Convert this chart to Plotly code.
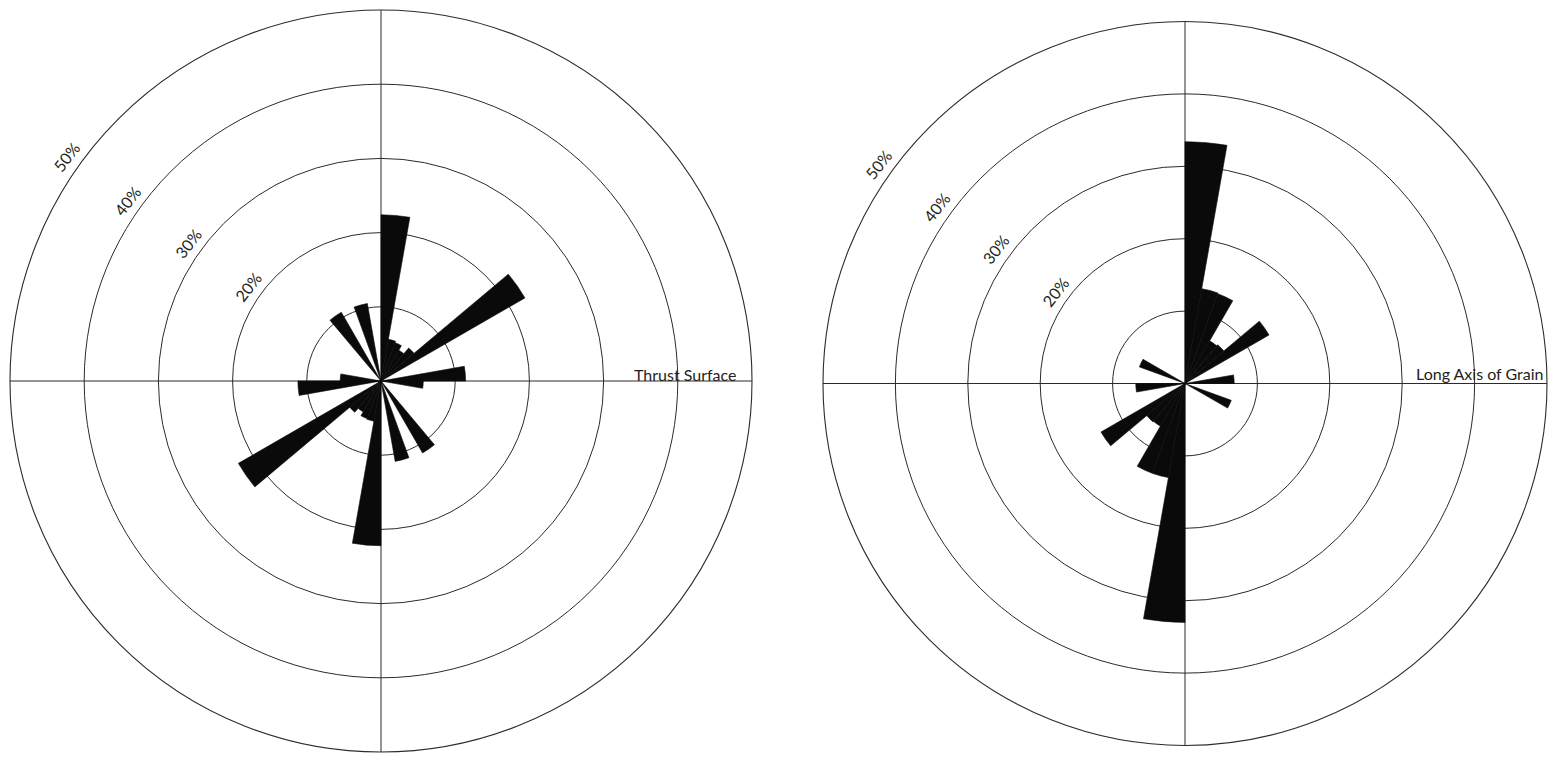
import math
import plotly.graph_objects as go

# Rose diagrams, 10 degree bins (compass degrees, clockwise from north)
bin_start = list(range(0, 360, 10))

# % of grains per bin, left diagram (thrust surface)
thrust_pct = [22.4, 5.7, 5.5, 4.8, 5.8, 22.4, 0, 0, 11.4, 5.7, 0, 0, 0, 0, 11.2, 0, 11.0, 0,
              22.2, 5.5, 5.4, 4.8, 5.5, 22.2, 0, 0, 11.2, 5.5, 0, 0, 0, 0, 10.7, 0, 10.6, 0]

# % of grains per bin, right diagram (long axis of grain)
grain_pct = [33.4, 13.3, 13.2, 6.8, 7.0, 13.4, 0, 0, 6.8, 0, 0, 6.8, 0, 0, 0, 0, 0, 0,
             33.0, 13.2, 13.2, 6.8, 6.9, 13.4, 0, 0, 6.8, 0, 0, 6.7, 0, 0, 0, 0, 0, 0]

ring_vals = [10, 20, 30, 40, 50]
ring_labels = ["", "20%", "30%", "40%", "50%"]
r_max = 50

W, H = 1552, 757
INK = "#231f20"
BAR = "#0a0a0a"

# polar areas in pixels (left, top, size)
left_box = (10, 10, 742)
right_box = (823, 21.5, 724)


def dom(box):
    x0, y0, s = box
    return dict(x=[x0 / W, (x0 + s) / W], y=[1 - (y0 + s) / H, 1 - y0 / H])


def to_paper(box, r, theta):
    # polar (r, compass theta) -> paper coords
    x0, y0, s = box
    rad = s / 2 * r / r_max
    t = math.radians(theta)
    px = x0 + s / 2 + rad * math.sin(t)
    py = y0 + s / 2 - rad * math.cos(t)
    return px / W, 1 - py / H


fig = go.Figure()
centers = [b + 5 for b in bin_start]
fig.add_trace(go.Barpolar(r=thrust_pct, theta=centers, width=[10] * 36,
                          marker=dict(color=BAR, line=dict(color=BAR, width=0.6)),
                          subplot="polar", showlegend=False))
fig.add_trace(go.Barpolar(r=grain_pct, theta=centers, width=[10] * 36,
                          marker=dict(color=BAR, line=dict(color=BAR, width=0.6)),
                          subplot="polar2", showlegend=False))

polar_style = dict(
    bgcolor="white",
    radialaxis=dict(range=[0, r_max], tickvals=ring_vals, showticklabels=False, ticks="",
                    showline=False, gridcolor="#2b2b2b", gridwidth=1.1, layer="below traces"),
    angularaxis=dict(rotation=90, direction="clockwise", dtick=90, showticklabels=False,
                     ticks="", showline=True, linecolor="#2b2b2b", linewidth=1.1,
                     gridcolor="#2b2b2b", gridwidth=1.1, layer="below traces"),
)
fig.update_layout(polar=dict(domain=dom(left_box), **polar_style),
                  polar2=dict(domain=dom(right_box), **polar_style))

annotations = []
for box in (left_box, right_box):
    for v, lab in zip(ring_vals, ring_labels):
        if not lab:
            continue
        x, y = to_paper(box, v + 2.0, 305.5)
        annotations.append(dict(x=x, y=y, xref="paper", yref="paper", text=lab, showarrow=False,
                                xanchor="center", yanchor="middle", textangle=-52,
                                font=dict(family="Lato, Open Sans", size=16, color=INK)))

tx, ty = to_paper(left_box, 33.8, 90)
annotations.append(dict(x=tx, y=ty, xref="paper", yref="paper", text="Thrust Surface", showarrow=False,
                        xanchor="left", yanchor="bottom", yshift=-5,
                        font=dict(family="Lato", size=16, color=INK)))
gx, gy = to_paper(right_box, 31.6, 90)
annotations.append(dict(x=gx, y=gy, xref="paper", yref="paper", text="Long Axis of Grain", showarrow=False,
                        xanchor="left", yanchor="bottom", yshift=-1,
                        font=dict(family="Lato", size=16, color=INK)))

fig.update_layout(width=W, height=H, margin=dict(l=0, r=0, t=0, b=0),
                  paper_bgcolor="white", annotations=annotations)

# drop the default 8px page margin so the figure fills the window exactly
fig.write_html("out.html", config={"displayModeBar": False},
               post_script="document.body.style.margin='0';")
